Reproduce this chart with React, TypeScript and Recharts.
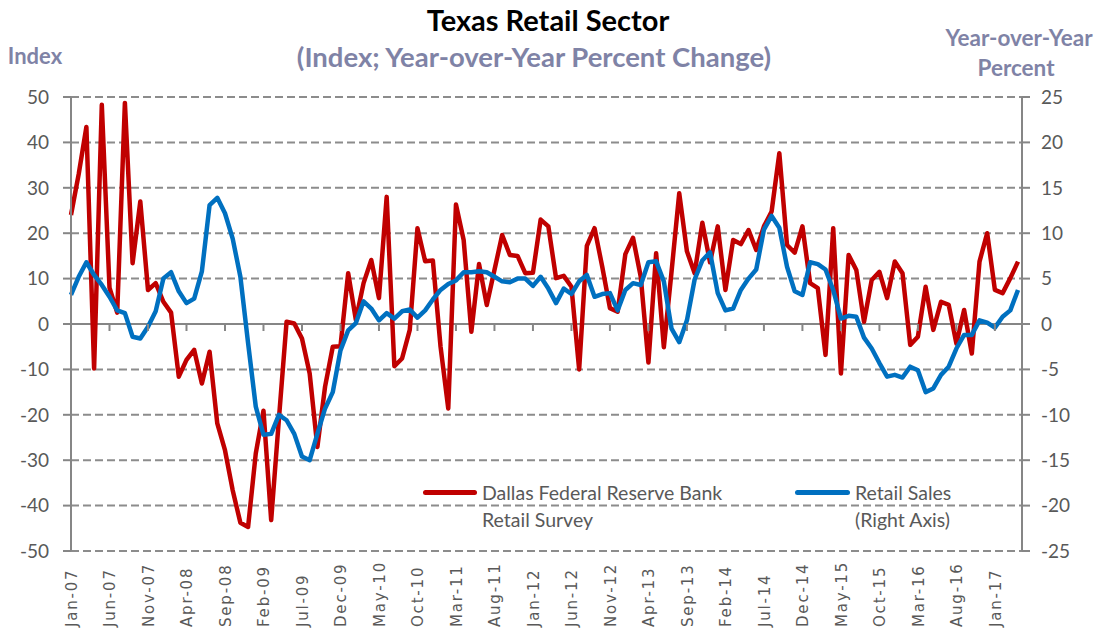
import { CartesianGrid, Line, LineChart, ReferenceLine, XAxis, YAxis } from "recharts"

const MONTHS = ["Jan", "Feb", "Mar", "Apr", "May", "Jun", "Jul", "Aug", "Sep", "Oct", "Nov", "Dec"]
const START_YEAR = 2007

// Dallas Fed Texas Retail Outlook Survey, index (left axis)
const surveyIndex = [
  24, 33, 43.4, -9.8, 48.3, 8, 2.5, 48.7, 13.4, 27, 7.5, 9,
  4.9, 2.5, -11.6, -7.9, -5.7, -13.1, -6.1, -21.9, -27.8, -36.6, -43.8, -44.7,
  -28.5, -19.1, -43.2, -21, 0.5, 0.1, -3.2, -10.9, -27.1, -13.8, -5, -4.9,
  11.2, 0.9, 9, 14.1, 5.7, 28, -9.3, -7.6, -1.3, 21.1, 13.8, 14,
  -5, -18.6, 26.3, 18.5, -1.7, 13.2, 4.2, 11.9, 19.6, 15.2, 15, 11.2,
  11.3, 23, 21.5, 10.1, 10.6, 8.2, -10, 17.2, 21.1, 12.6, 3.5, 2.7,
  15.4, 19, 10.4, -8.5, 15.6, -5.1, 11.5, 28.8, 16, 11.2, 22.3, 13.6,
  21.5, 7.5, 18.5, 17.6, 20.7, 16.3, 21.5, 24.8, 37.6, 17.4, 15.7, 21.5,
  9, 7.9, -6.8, 21.1, -10.9, 15.2, 11.9, 0.5, 9.7, 11.5, 5.7, 13.75,
  11.2, -4.6, -2.8, 8.2, -1.3, 4.9, 4.2, -4.3, 3.1, -6.5, 13.75, 20,
  7.5, 6.8, 10.1, 13.75,
]

// Texas retail sales, year-over-year percent change (right axis)
const retailSales = [
  3.2, 5.2, 6.8, 5.4, 4.3, 3.0, 1.5, 1.2, -1.4, -1.6, -0.3, 1.4,
  5.0, 5.7, 3.6, 2.3, 2.8, 5.8, 13.1, 13.9, 12.2, 9.4, 5.2, -2.1,
  -9.1, -12.2, -12.1, -10.0, -10.6, -12.1, -14.6, -15.0, -12.1, -9.3, -7.5, -2.9,
  -0.7, 0.1, 2.5, 1.7, 0.4, 1.2, 0.6, 1.4, 1.6, 0.7, 1.5, 2.7,
  3.75, 4.4, 4.8, 5.7, 5.7, 5.8, 5.7, 5.2, 4.7, 4.6, 5.0, 5.0,
  4.2, 5.2, 3.9, 2.3, 3.9, 3.3, 4.7, 5.4, 3.0, 3.3, 3.4, 1.5,
  3.75, 4.5, 4.3, 6.8, 6.9, 4.7, -0.5, -2.0, 0.4, 4.9, 7.0, 7.9,
  3.4, 1.5, 1.7, 3.75, 5.0, 6.0, 10.4, 11.9, 10.6, 6.3, 3.6, 3.2,
  6.8, 6.6, 6.0, 3.75, 0.6, 0.9, 0.8, -1.5, -2.7, -4.3, -5.8, -5.6,
  -5.9, -4.7, -5.1, -7.5, -7.1, -5.6, -4.7, -2.7, -1.2, -1.2, 0.4, 0.15,
  -0.4, 0.8, 1.5, 3.75,
]

const leftTicks = [-50, -40, -30, -20, -10, 0, 10, 20, 30, 40, 50]
const rightTicks = [-25, -20, -15, -10, -5, 0, 5, 10, 15, 20, 25]

const monthLabels = surveyIndex.map((_, i) => {
  const yr = START_YEAR + Math.floor(i / 12)
  return `${MONTHS[i % 12]}-${String(yr % 100).padStart(2, "0")}`
})

const data = monthLabels.map((month, i) => ({
  month,
  survey: surveyIndex[i],
  sales: retailSales[i],
}))

const W = 1101
const H = 636
const TOP = 97
const PLOT_H = 454
const ZERO_Y = TOP + PLOT_H / 2
const AXIS_GREY = "#868686"
const LABEL_GREY = "#595959"
const HEAD = "#7F83A6"
const FONT = "Lato, 'Open Sans', sans-serif"

const XTick = (props: any) => {
  const { x, payload } = props
  return (
    <g>
      {payload.index > 0 && (
        <line x1={x} x2={x} y1={ZERO_Y} y2={ZERO_Y + 7} stroke={AXIS_GREY} strokeWidth={2} />
      )}
      <text
        x={x + 6}
        y={627}
        transform={`rotate(-90, ${x + 6}, 627)`}
        textAnchor='start'
        fontFamily="'DejaVu Sans', sans-serif"
        fontSize={15}
        letterSpacing={1.8}
        fill={LABEL_GREY}
      >
        {payload.value}
      </text>
    </g>
  )
}

const center = (left: number, top: number): React.CSSProperties => ({
  position: "absolute",
  left,
  top,
  transform: "translate(-50%, -50%)",
  whiteSpace: "nowrap",
  lineHeight: 1,
})

const App = () => {
  return (
    <div style={{ position: "absolute", left: 0, top: 0, width: W, height: H, background: "#fff", fontFamily: FONT }}>
      <LineChart
        width={W}
        height={H}
        data={data}
        margin={{ top: TOP, right: 19, bottom: 0, left: 11 }}
      >
        <CartesianGrid
          yAxisId='left'
          vertical={false}
          stroke='#8c8c8c'
          strokeWidth={2}
          strokeDasharray='8 4'
        />
        <XAxis
          dataKey='month'
          interval={4}
          height={85}
          axisLine={false}
          tickLine={false}
          padding={{ left: 0, right: 4 }}
          tick={<XTick />}
        />
        <YAxis
          yAxisId='left'
          domain={[-50, 50]}
          ticks={leftTicks}
          width={60}
          tickSize={8}
          tickMargin={14}
          axisLine={{ stroke: AXIS_GREY, strokeWidth: 2 }}
          tickLine={{ stroke: AXIS_GREY, strokeWidth: 2 }}
          tick={{ fontSize: 19, fill: LABEL_GREY, fontFamily: FONT }}
        />
        <YAxis
          yAxisId='right'
          orientation='right'
          domain={[-25, 25]}
          ticks={rightTicks}
          width={60}
          tickSize={8}
          tickMargin={11}
          axisLine={{ stroke: AXIS_GREY, strokeWidth: 2 }}
          tickLine={{ stroke: AXIS_GREY, strokeWidth: 2 }}
          tick={{ fontSize: 19, fill: LABEL_GREY, fontFamily: FONT, textAnchor: "start" }}
        />
        <ReferenceLine yAxisId='left' y={0} stroke={AXIS_GREY} strokeWidth={2} />
        <Line
          yAxisId='left'
          type='linear'
          dataKey='survey'
          stroke='#C00000'
          strokeWidth={4.5}
          strokeLinejoin='round'
          dot={false}
          isAnimationActive={false}
        />
        <Line
          yAxisId='right'
          type='linear'
          dataKey='sales'
          stroke='#0070C0'
          strokeWidth={4.5}
          strokeLinejoin='round'
          dot={false}
          isAnimationActive={false}
        />
      </LineChart>

      <div style={{ ...center(548, 19), fontSize: 29, fontWeight: 700, color: "#000" }}>
        Texas Retail Sector
      </div>
      <div style={{ ...center(534, 57), fontSize: 27.5, fontWeight: 700, color: HEAD }}>
        (Index; Year-over-Year Percent Change)
      </div>
      <div style={{ ...center(35, 56), fontSize: 22, fontWeight: 700, color: HEAD }}>Index</div>
      <div style={{ ...center(1019, 38), fontSize: 22.5, fontWeight: 700, color: HEAD }}>Year-over-Year</div>
      <div style={{ ...center(1016, 68), fontSize: 22.5, fontWeight: 700, color: HEAD }}>Percent</div>

      <div style={{ position: "absolute", left: 423, top: 490, width: 54, height: 5, borderRadius: 3, background: "#C00000" }} />
      <div style={{ position: "absolute", left: 482, top: 479, fontSize: 19.5, lineHeight: "27px", color: LABEL_GREY }}>
        Dallas Federal Reserve Bank
        <br />
        Retail Survey
      </div>
      <div style={{ position: "absolute", left: 795, top: 490, width: 55, height: 5, borderRadius: 3, background: "#0070C0" }} />
      <div style={{ position: "absolute", left: 855, top: 479, fontSize: 19.5, lineHeight: "27px", color: LABEL_GREY }}>
        Retail Sales
        <br />
        (Right Axis)
      </div>
    </div>
  )
}

export default App
